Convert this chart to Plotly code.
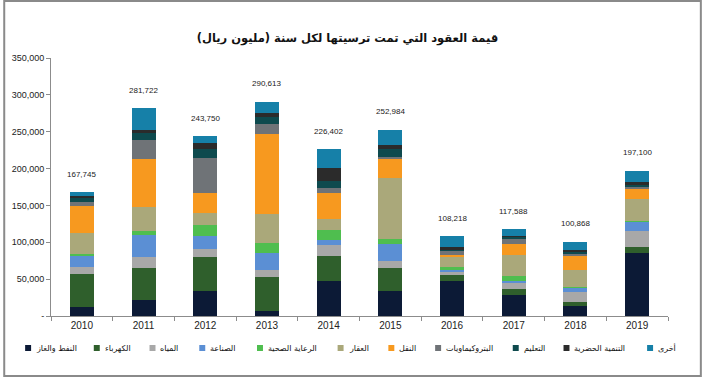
import plotly.graph_objects as go

# ---- data ----
years = ["2010", "2011", "2012", "2013", "2014", "2015", "2016", "2017", "2018", "2019"]
totals = [167745, 281722, 243750, 290613, 226402, 252984, 108218, 117588, 100868, 197100]

oil_gas = [12000, 21100, 33300, 7200, 47600, 34200, 47200, 28300, 13900, 85400]
electricity = [45000, 43600, 46700, 45400, 33300, 31500, 8500, 8500, 4500, 7600]
water = [9000, 14800, 10800, 9400, 14800, 9400, 3600, 9000, 13900, 22000]
industry = [16200, 31000, 17500, 22900, 7600, 22900, 3100, 2200, 6300, 13000]
healthcare = [1500, 4500, 14800, 14800, 13900, 5800, 4000, 6300, 900, 500]
real_estate = [29200, 33300, 17100, 39100, 13900, 83100, 14800, 28800, 23400, 30600]
transport = [36900, 64300, 26500, 108700, 35500, 25600, 2200, 14800, 18400, 13900]
petrochem = [4500, 25600, 47200, 13500, 7200, 3600, 4900, 7600, 4000, 2200]
education = [5800, 10300, 12100, 8500, 9400, 10800, 1800, 2200, 2700, 3100]
urban_dev = [2700, 4500, 8500, 6300, 18000, 4500, 3100, 1300, 1800, 4000]
other = [4900, 28700, 9200, 14800, 25200, 21600, 15000, 8500, 10800, 14800]

series_names = ["النفط والغاز", "الكهرباء", "المياه", "الصناعة", "الرعاية الصحية", "العقار",
                "النقل", "البتروكيماويات", "التعليم", "التنمية الحضرية", "أخرى"]
series_values = [oil_gas, electricity, water, industry, healthcare, real_estate,
                 transport, petrochem, education, urban_dev, other]
series_colors = ["#0c1a36", "#2f5f2c", "#a8a8a8", "#5b8fd4", "#4fbe4f", "#aaa87a",
                 "#f7991f", "#6f7377", "#0e4a4e", "#2b2b2b", "#1680a8"]

y_tickvals = [0, 50000, 100000, 150000, 200000, 250000, 300000, 350000]
y_ticktext = ["-", "50,000", "100,000", "150,000", "200,000", "250,000", "300,000", "350,000"]

title_text = "قيمة العقود التي تمت ترسيتها لكل سنة (مليون ريال)"

# ---- layout geometry (pixels) ----
W, H = 702, 377
ML, MR, MT, MB = 48, 34, 58, 61
PW = W - ML - MR
PH = H - MT - MB

def px_x(p):
    return (p - ML) / PW

def px_y(p):
    return (H - MB - p) / PH

fig = go.Figure()
for name, vals, col in zip(series_names, series_values, series_colors):
    fig.add_trace(go.Bar(x=years, y=vals, name=name, marker=dict(color=col, line=dict(width=0)),
                         showlegend=False))

# totals above bars (category index positions on the x axis)
for i, t in enumerate(totals):
    fig.add_annotation(x=i, y=t, xref="x", yref="y", text=f"{t:,}", showarrow=False, yshift=18,
                       font=dict(family="Liberation Sans", size=8, color="#222222"))

# custom legend (marker left, text right)
legend_centers = [25, 94, 150, 200, 258, 339, 390, 437, 515, 566, 650]
legend_y = 348
for name, col, cx in zip(series_names, series_colors, legend_centers):
    fig.add_shape(type="rect", xref="paper", yref="paper",
                  x0=px_x(cx - 3), x1=px_x(cx + 3), y0=px_y(legend_y + 3), y1=px_y(legend_y - 3),
                  fillcolor=col, line=dict(width=0))
    fig.add_annotation(xref="paper", yref="paper", x=px_x(cx + 6), y=px_y(legend_y),
                       xanchor="left", yanchor="middle", text=name, showarrow=False,
                       font=dict(family="DejaVu Sans", size=8, color="#111111"))

# outer frame
fig.add_shape(type="rect", xref="paper", yref="paper",
              x0=px_x(1), x1=px_x(W - 1), y0=px_y(H - 1), y1=px_y(1),
              line=dict(color="#8a8a8a", width=2), fillcolor="rgba(0,0,0,0)", layer="above")

fig.update_layout(
    width=W, height=H,
    barmode="stack", bargap=0.61,
    margin=dict(l=ML, r=MR, t=MT, b=MB),
    paper_bgcolor="white", plot_bgcolor="white",
    showlegend=False,
    title=dict(text=f"<b>{title_text}</b>", x=0.495, xref="container", xanchor="center",
               y=1 - 38 / H, yref="container", yanchor="middle",
               font=dict(family="DejaVu Sans", size=11.5, color="#111111")),
    xaxis=dict(type="category", range=[-0.5, len(years) - 0.5], showline=True,
               linecolor="#8c8c8c", linewidth=1,
               ticks="outside", tickson="boundaries", ticklen=4, tickcolor="#8c8c8c",
               showgrid=False, tickfont=dict(family="Liberation Sans", size=10, color="#222222")),
    yaxis=dict(range=[0, 350000], tickvals=y_tickvals, ticktext=y_ticktext,
               showline=True, linecolor="#8c8c8c", linewidth=1, ticks="outside", ticklen=4,
               tickcolor="#8c8c8c", showgrid=False, zeroline=False,
               tickfont=dict(family="Liberation Sans", size=9, color="#222222")),
)

fig.write_html("out.html", config={"displayModeBar": False},
               post_script="document.body.style.margin='0';document.body.style.overflow='hidden';")
